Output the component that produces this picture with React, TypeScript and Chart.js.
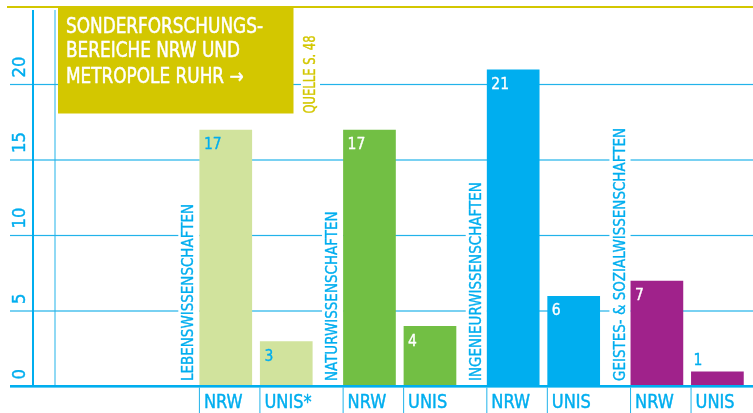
import React, { useEffect, useRef } from "react";
import { Chart, registerables } from "chart.js";

Chart.register(...registerables);

// ---- data ----
const groups = [
  "LEBENSWISSENSCHAFTEN",
  "NATURWISSENSCHAFTEN",
  "INGENIEURWISSENSCHAFTEN",
  "GEISTES- & SOZIALWISSENSCHAFTEN",
];
const nrwValues = [17, 17, 21, 7];
const unisValues = [3, 4, 6, 1];
const nrwTickLabels = ["NRW", "NRW", "NRW", "NRW"];
const unisTickLabels = ["UNIS*", "UNIS", "UNIS", "UNIS"];
const yTicks = [0, 5, 10, 15, 20];
const titleLines = ["SONDERFORSCHUNGS-", "BEREICHE NRW UND", "METROPOLE RUHR \u2192"];
const sourceText = "QUELLE S. 48";

// ---- styles ----
const groupColors = ["#d1e39d", "#72bf44", "#00aeef", "#a0228b"];
const valueTextColors = ["#00aeef", "#ffffff", "#ffffff", "#ffffff"];
const BLUE = "#00aeef";
const GRID = "#22b3ea";
const YELLOW = "#d3c700";
const FONT = "'DejaVu Sans Condensed', 'Liberation Sans Narrow', 'DejaVu Sans', sans-serif";
const CAP = 0.73;

function scaleFor(ctx: CanvasRenderingContext2D, ref: string, cap: number, len: number) {
  ctx.save();
  ctx.font = `${cap / CAP}px ${FONT}`;
  const w = ctx.measureText(ref).width;
  ctx.restore();
  return len / w;
}

function drawText(
  ctx: CanvasRenderingContext2D,
  text: string,
  x: number,
  y: number,
  cap: number,
  sx: number,
  color: string,
  rotated = false
) {
  ctx.save();
  ctx.font = `${cap / CAP}px ${FONT}`;
  ctx.translate(x, y);
  if (rotated) ctx.rotate(-Math.PI / 2);
  ctx.scale(sx, 1);
  ctx.fillStyle = color;
  ctx.strokeStyle = color;
  ctx.lineWidth = cap * 0.03;
  ctx.lineJoin = "round";
  ctx.textAlign = "left";
  ctx.textBaseline = "alphabetic";
  ctx.fillText(text, 0, 0);
  ctx.strokeText(text, 0, 0);
  ctx.restore();
}

function textLen(ctx: CanvasRenderingContext2D, text: string, cap: number, sx: number) {
  ctx.save();
  ctx.font = `${cap / CAP}px ${FONT}`;
  const w = ctx.measureText(text).width * sx;
  ctx.restore();
  return w;
}

const decorPlugin = {
  id: "decor",
  beforeDatasetsDraw(chart: any) {
    const ctx: CanvasRenderingContext2D = chart.ctx;
    const y = chart.scales.y;
    const W = chart.width;
    ctx.save();
    // gridlines
    ctx.fillStyle = GRID;
    yTicks.forEach((v) => {
      if (v === 0) return;
      const py = y.getPixelForValue(v);
      ctx.fillRect(10, py - 0.6, W, 1.2);
    });
    // top yellow line
    ctx.fillStyle = YELLOW;
    ctx.fillRect(7, 6, W, 2);
    // axis lines
    const base = y.getPixelForValue(0);
    ctx.fillStyle = BLUE;
    ctx.fillRect(32, 10, 2, base - 10);
    ctx.fillStyle = GRID;
    ctx.fillRect(54.5, 10, 1, base - 10);
    // y tick labels
    const ySx = scaleFor(ctx, "10", 13.3, 21);
    yTicks.forEach((v) => {
      const py = y.getPixelForValue(v);
      drawText(ctx, String(v), 25, py - 7, 13.3, ySx, BLUE, true);
    });
    // vertical group labels with white background
    const gSx = scaleFor(ctx, groups[0], 11.6, 177);
    const meta0 = chart.getDatasetMeta(0);
    groups.forEach((g, i) => {
      const bar: any = meta0.data[i];
      const left = bar.x - bar.width / 2;
      const bx = left - 6;
      const len = textLen(ctx, g, 11.6, gSx);
      const startY = base - 5.5;
      ctx.fillStyle = "#ffffff";
      ctx.fillRect(bx - 11.6 - 3.5, startY - len - 3, left - (bx - 11.6 - 3.5), len + 3 + (base - startY));
      drawText(ctx, g, bx, startY, 11.6, gSx, BLUE, true);
    });
    ctx.restore();
  },
  afterDatasetsDraw(chart: any) {
    const ctx: CanvasRenderingContext2D = chart.ctx;
    const y = chart.scales.y;
    const W = chart.width;
    const H = chart.height;
    const base = y.getPixelForValue(0);
    ctx.save();
    // baseline
    ctx.fillStyle = BLUE;
    ctx.fillRect(10, base - 1.5, W, 2.6);
    // x ticks and labels + value labels
    const xSx = scaleFor(ctx, "NRW", 14, 38.7);
    const vSx = scaleFor(ctx, "17", 11.6, 17.7);
    [0, 1].forEach((d) => {
      const meta = chart.getDatasetMeta(d);
      const labels = d === 0 ? nrwTickLabels : unisTickLabels;
      const values = d === 0 ? nrwValues : unisValues;
      meta.data.forEach((bar: any, i: number) => {
        const left = bar.x - bar.width / 2;
        ctx.fillStyle = GRID;
        ctx.fillRect(left - 0.5, base + 1, 1, H - base);
        drawText(ctx, labels[i], left + 4.5, 408, 14, xSx, BLUE);
        const h = base - bar.y;
        if (h > 26) {
          drawText(ctx, String(values[i]), left + 4.5, bar.y + 19.5, 11.6, vSx, valueTextColors[i]);
        } else {
          drawText(ctx, String(values[i]), left + 2.5, bar.y - 6.5, 11.6, vSx, BLUE);
        }
      });
    });
    // title box
    ctx.fillStyle = YELLOW;
    ctx.fillRect(58, 6, 235.5, 107.5);
    const tSx = scaleFor(ctx, titleLines[0], 15, 197);
    const baselines = [33.3, 57, 83.3];
    titleLines.forEach((t, i) => drawText(ctx, t, 66, baselines[i], 15, tSx, "#ffffff"));
    // source text
    ctx.fillStyle = "#ffffff";
    ctx.fillRect(301, 33, 19, 82);
    const sSx = scaleFor(ctx, sourceText, 11.7, 78);
    drawText(ctx, sourceText, 315, 113.5, 11.7, sSx, YELLOW, true);
    ctx.restore();
  },
};

export default function App() {
  const ref = useRef<HTMLCanvasElement | null>(null);
  useEffect(() => {
    document.body.style.margin = "0";
    const canvas = ref.current!;
    const chart = new Chart(canvas, {
      type: "bar",
      data: {
        labels: groups,
        datasets: [
          { label: "NRW", data: nrwValues, backgroundColor: groupColors, borderWidth: 0 },
          { label: "UNIS", data: unisValues, backgroundColor: groupColors, borderWidth: 0 },
        ],
      },
      options: {
        animation: false,
        responsive: false,
        devicePixelRatio: 1,
        events: [],
        categoryPercentage: 0.842,
        barPercentage: 0.871,
        layout: { padding: { left: 184.15, right: 1, top: 9, bottom: 26.5 } },
        plugins: { legend: { display: false }, tooltip: { enabled: false } },
        scales: {
          x: { display: false, offset: true },
          y: { display: false, min: 0, max: 25 },
        },
      },
      plugins: [decorPlugin],
    });
    return () => chart.destroy();
  }, []);
  return (
    <div style={{ position: "fixed", left: 0, top: 0, width: 753, height: 413, overflow: "hidden", background: "#fff" }}>
      <canvas ref={ref} width={760} height={413} style={{ display: "block" }} />
    </div>
  );
}
